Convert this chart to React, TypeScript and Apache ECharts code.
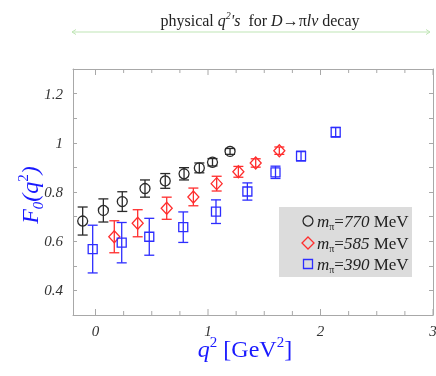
import React, { useEffect, useRef } from "react";
import * as echarts from "echarts";

const xBlack = [-0.114, 0.07, 0.238, 0.44, 0.62, 0.787, 0.923, 1.04, 1.196];
const yBlack = [0.682, 0.725, 0.761, 0.814, 0.845, 0.874, 0.898, 0.921, 0.965];
const eBlack = [0.057, 0.047, 0.04, 0.035, 0.03, 0.025, 0.02, 0.015, 0.012];

const xRed = [0.167, 0.375, 0.633, 0.87, 1.077, 1.27, 1.424, 1.634];
const yRed = [0.618, 0.673, 0.734, 0.78, 0.834, 0.882, 0.918, 0.968];
const eRed = [0.065, 0.055, 0.045, 0.036, 0.03, 0.022, 0.017, 0.015];

const xBlue = [-0.025, 0.233, 0.478, 0.78, 1.071, 1.35, 1.6, 1.827, 2.135];
const yBlue = [0.568, 0.594, 0.618, 0.657, 0.72, 0.802, 0.88, 0.946, 1.043];
const eBlue = [0.097, 0.082, 0.075, 0.062, 0.048, 0.035, 0.025, 0.02, 0.02];

const xTicks = [0, 0.25, 0.5, 0.75, 1, 1.25, 1.5, 1.75, 2, 2.25, 2.5, 2.75, 3];
const legendLabels = ["770", "585", "390"];

const X_MIN = -0.2, X_MAX = 3, Y_MIN = 0.3, Y_MAX = 1.3;
const SERIF = "'Liberation Serif', 'DejaVu Serif', serif";
const C_BLACK = "#2a2a2a", C_RED = "#ff2d2d", C_BLUE = "#2d2dff", C_AXIS = "#a8a8a8";
const C_TITLE = "#1a1aff";

function errSeries(xs: number[], ys: number[], es: number[], color: string) {
  return {
    type: "custom",
    clip: false,
    z: 3,
    data: xs.map((x, i) => [x, ys[i], es[i]]),
    encode: { x: 0, y: 1 },
    renderItem: (_p: any, api: any) => {
      const x = api.value(0), y = api.value(1), e = api.value(2);
      const t = api.coord([x, y + e]);
      const b = api.coord([x, y - e]);
      const w = 5;
      const st = { stroke: color, lineWidth: 1.3 };
      return {
        type: "group",
        children: [
          { type: "line", shape: { x1: t[0], y1: t[1], x2: b[0], y2: b[1] }, style: st },
          { type: "line", shape: { x1: t[0] - w, y1: t[1], x2: t[0] + w, y2: t[1] }, style: st },
          { type: "line", shape: { x1: b[0] - w, y1: b[1], x2: b[0] + w, y2: b[1] }, style: st },
        ],
      };
    },
  };
}

function pointSeries(xs: number[], ys: number[], color: string, symbol: string, size: any) {
  return {
    type: "scatter",
    z: 4,
    symbol,
    symbolSize: size,
    data: xs.map((x, i) => [x, ys[i]]),
    itemStyle: { color: "rgba(0,0,0,0)", borderColor: color, borderWidth: 1.3, opacity: 1 },
  };
}

const rich = {
  n: { fontFamily: SERIF, fontSize: 16, fill: "#222", lineHeight: 20 },
  i: { fontFamily: SERIF, fontSize: 16, fontStyle: "italic", fill: "#222", lineHeight: 20 },
  sup: { fontFamily: SERIF, fontSize: 10, fontStyle: "italic", fill: "#222", lineHeight: 10, verticalAlign: "top" },
};

const blueRich = {
  n: { fontFamily: SERIF, fontSize: 24, fill: C_TITLE, lineHeight: 30 },
  i: { fontFamily: SERIF, fontSize: 24, fontStyle: "italic", fill: C_TITLE, lineHeight: 30 },
  sup: { fontFamily: SERIF, fontSize: 15, fill: C_TITLE, lineHeight: 14, verticalAlign: "top" },
  sub: { fontFamily: SERIF, fontSize: 15, fontStyle: "italic", fill: C_TITLE, lineHeight: 14, verticalAlign: "bottom" },
};

export default function App() {
  const ref = useRef<HTMLDivElement>(null);
  useEffect(() => {
    const chart = echarts.init(ref.current!, null, { renderer: "svg" });
    const legendColors = [C_BLACK, C_RED, C_BLUE];
    const legendY = [221, 243, 264];
    const graphic: any[] = [
      {
        type: "text",
        x: 260,
        y: 20,
        style: {
          text: "{n|physical }{i|q}{sup|2}{i|'s}{n|  for }{i|D}{n|→π}{i|lν}{n| decay}",
          rich,
          align: "center",
          verticalAlign: "middle",
        },
      },
      { type: "line", shape: { x1: 72, y1: 32, x2: 430, y2: 32 }, style: { stroke: "#bfe5b5", lineWidth: 1 } },
      { type: "polyline", shape: { points: [[76, 29.5], [72, 32], [76, 34.5]] }, style: { stroke: "#bfe5b5", fill: "none", lineWidth: 1 } },
      { type: "polyline", shape: { points: [[426, 29.5], [430, 32], [426, 34.5]] }, style: { stroke: "#bfe5b5", fill: "none", lineWidth: 1 } },
      {
        type: "text",
        x: 30,
        y: 195,
        rotation: Math.PI / 2,
        style: {
          text: "{i|F}{sub|0}{i|(q}{sup|2}{i|)}",
          rich: blueRich,
          align: "center",
          verticalAlign: "middle",
        },
      },
      {
        type: "text",
        x: 245,
        y: 349,
        style: {
          text: "{i|q}{sup|2}{n| [GeV}{sup|2}{n|]}",
          rich: blueRich,
          align: "center",
          verticalAlign: "middle",
        },
      },
      { type: "rect", z: 10, shape: { x: 279, y: 207, width: 133, height: 70 }, style: { fill: "#dcdcdc" } },
      { type: "circle", z: 11, shape: { cx: 308, cy: legendY[0], r: 5 }, style: { fill: "none", stroke: legendColors[0], lineWidth: 1.3 } },
      {
        type: "polygon", z: 11,
        shape: { points: [[308, legendY[1] - 6], [314, legendY[1]], [308, legendY[1] + 6], [302, legendY[1]]] },
        style: { fill: "none", stroke: legendColors[1], lineWidth: 1.3 },
      },
      { type: "rect", z: 11, shape: { x: 303.5, y: legendY[2] - 4.5, width: 9, height: 9 }, style: { fill: "none", stroke: legendColors[2], lineWidth: 1.3 } },
    ];
    legendLabels.forEach((lab, k) => {
      graphic.push({
        type: "text",
        z: 11,
        x: 317,
        y: legendY[k],
        style: {
          text: `{i|m}{sub|π}{n|=}{i|${lab}}{n| MeV}`,
          rich: {
            n: { fontFamily: SERIF, fontSize: 17, fill: "#222", lineHeight: 20 },
            i: { fontFamily: SERIF, fontSize: 17, fontStyle: "italic", fill: "#222", lineHeight: 20 },
            sub: { fontFamily: SERIF, fontSize: 10, fill: "#222", lineHeight: 10, verticalAlign: "bottom" },
          },
          align: "left",
          verticalAlign: "middle",
        },
      });
    });

    const axisCommon = {
      type: "value",
      splitLine: { show: false },
    };

    chart.setOption({
      animation: false,
      grid: { left: 73, right: 3, top: 69, bottom: 61 },
      xAxis: [
        { ...axisCommon, min: X_MIN, max: X_MAX, position: "bottom", axisLine: { show: true, onZero: false, lineStyle: { color: C_AXIS } }, axisTick: { show: false }, axisLabel: { show: false } },
        { ...axisCommon, min: X_MIN, max: X_MAX, position: "top", axisLine: { show: true, onZero: false, lineStyle: { color: C_AXIS } }, axisTick: { show: false }, axisLabel: { show: false } },
      ],
      yAxis: [
        {
          ...axisCommon, min: Y_MIN, max: Y_MAX, interval: 0.1, position: "left",
          axisLine: { show: true, onZero: false, lineStyle: { color: C_AXIS } },
          axisTick: { show: true, inside: true, length: 4, lineStyle: { color: C_AXIS } },
          axisLabel: {
            margin: 10,
            fontFamily: SERIF, fontStyle: "italic", fontSize: 15, color: "#333",
            formatter: (v: number) => {
              const r = Math.round(v * 10);
              if (r % 2 !== 0 || r < 4 || r > 12) return "";
              return r === 10 ? "1" : (r / 10).toFixed(1);
            },
          },
        },
        {
          ...axisCommon, min: Y_MIN, max: Y_MAX, interval: 0.1, position: "right",
          axisLine: { show: true, onZero: false, lineStyle: { color: C_AXIS } },
          axisTick: { show: true, inside: true, length: 4, lineStyle: { color: C_AXIS } },
          axisLabel: { show: false },
        },
      ],
      series: [
        {
          type: "custom",
          clip: false,
          data: xTicks.map((v) => [v, Y_MIN]),
          encode: { x: 0, y: 1 },
          renderItem: (_p: any, api: any) => {
            const v = api.value(0);
            const b = api.coord([v, Y_MIN]);
            const t = api.coord([v, Y_MAX]);
            const major = Math.abs(v - Math.round(v)) < 1e-6;
            const L = major ? 6 : 4;
            const st = { stroke: C_AXIS, lineWidth: 1 };
            const children: any[] = [
              { type: "line", shape: { x1: b[0], y1: b[1], x2: b[0], y2: b[1] - L }, style: st },
              { type: "line", shape: { x1: t[0], y1: t[1], x2: t[0], y2: t[1] + L }, style: st },
            ];
            if (major) {
              children.push({
                type: "text",
                style: {
                  text: String(Math.round(v)), x: b[0], y: b[1] + 8,
                  align: "center", verticalAlign: "top",
                  fontFamily: SERIF, fontStyle: "italic", fontSize: 15, fill: "#333",
                },
              });
            }
            return { type: "group", children };
          },
        },
        errSeries(xBlack, yBlack, eBlack, C_BLACK),
        errSeries(xRed, yRed, eRed, C_RED),
        errSeries(xBlue, yBlue, eBlue, C_BLUE),
        pointSeries(xBlack, yBlack, C_BLACK, "circle", 10),
        pointSeries(xRed, yRed, C_RED, "diamond", [11, 12]),
        pointSeries(xBlue, yBlue, C_BLUE, "rect", 9),
      ],
      graphic,
    });
    return () => chart.dispose();
  }, []);
  return <div ref={ref} style={{ position: "fixed", left: 0, top: 0, width: 436, height: 376 }} />;
}
